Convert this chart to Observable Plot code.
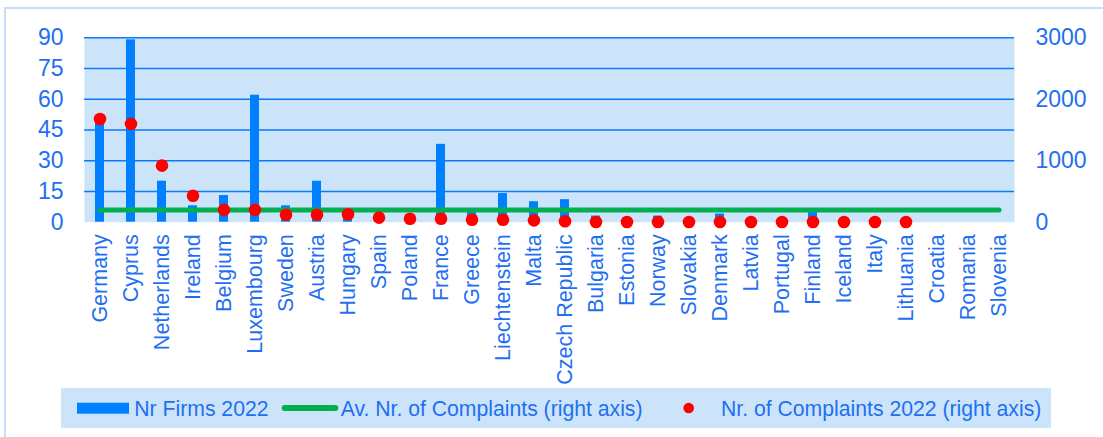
<!DOCTYPE html>
<html><head><meta charset="utf-8">
<script src="https://cdn.jsdelivr.net/npm/d3@7"></script>
<script src="https://cdn.jsdelivr.net/npm/@observablehq/plot@0.6"></script>
<style>
body{margin:0;background:#fff;font-family:"Liberation Sans",Arial,sans-serif;}
#wrap{position:relative;width:1103px;height:437px;overflow:hidden;background:#fff;}
#border{position:absolute;left:4px;top:7px;width:1200px;height:600px;border:2px solid #cadcf7;}
#chart{position:absolute;left:0;top:0;}
#legend{position:absolute;left:61px;top:388px;}
</style></head>
<body>
<div id="wrap"><div id="border"></div><div id="chart"></div><div id="legend"></div></div>
<script>
const countries = ["Germany","Cyprus","Netherlands","Ireland","Belgium","Luxembourg","Sweden","Austria","Hungary","Spain","Poland","France","Greece","Liechtenstein","Malta","Czech Republic","Bulgaria","Estonia","Norway","Slovakia","Denmark","Latvia","Portugal","Finland","Iceland","Italy","Lithuania","Croatia","Romania","Slovenia"];
const firms2022 = [49,89,20,8,13,62,8,20,3,2,3,38,5,14,10,11,3,2,3,1,4,1,1,5,1,1,1,0,0,0];
const complaints2022 = [1680,1600,920,430,200,200,120,120,130,75,55,55,40,40,30,15,3,3,3,3,3,3,3,3,3,3,3,null,null,null];
const avgComplaints = 200;
const leftTicks = [0,15,30,45,60,75,90];
const rightTicks = [0,1000,2000,3000];
const legendLabels = ["Nr Firms 2022","Av. Nr. of Complaints (right axis)","Nr. of Complaints 2022 (right axis)"];

const leftMax = 90, rightMax = 3000, k = leftMax / rightMax;
const rows = countries.map((c,i)=>({country:c, firms:firms2022[i], complaints:complaints2022[i], avg:avgComplaints}));
const txt = "#1f6ff2";
const font = "Liberation Sans, Arial, sans-serif";

const plot = Plot.plot({
  width: 1103, height: 388,
  marginTop: 37.3, marginBottom: 166.3, marginLeft: 84, marginRight: 89,
  style: {fontFamily: font, background: "transparent"},
  x: {domain: countries, padding: 0, label: null},
  y: {domain: [0, leftMax], label: null},
  marks: [
    Plot.frame({fill: "#cce4fa", stroke: "none"}),
    Plot.ruleY(leftTicks.filter(d => d > 0), {stroke: "#0a78ff", strokeWidth: 1.6}),
    Plot.barY(rows, {x: "country", y: "firms", fill: "#0080ff", insetLeft: 11, insetRight: 11}),
    Plot.lineY(rows, {x: "country", y: d => d.avg * k, stroke: "#00b050", strokeWidth: 5, strokeLinecap: "round"}),
    Plot.dot(rows.filter(d => d.complaints != null), {x: "country", y: d => d.complaints * k, r: 6.3, fill: "#ff0000", stroke: "none"}),
    Plot.axisY({anchor: "left", ticks: leftTicks, tickSize: 0, tickPadding: 21, fontSize: 23, color: txt, label: null}),
    Plot.axisY({anchor: "right", ticks: rightTicks.map(d => d * k), tickFormat: d => String(Math.round(d / k)), tickSize: 0, tickPadding: 21, fontSize: 23, color: txt, label: null}),
    Plot.axisX({tickRotate: -90, tickSize: 0, tickPadding: 12, fontSize: 21.5, color: txt, label: null})
  ]
});
document.getElementById("chart").appendChild(plot);

// legend
const lg = d3.select("#legend").append("svg").attr("width", 990).attr("height", 40)
  .style("font-family", font).style("display","block");
lg.append("rect").attr("width", 990).attr("height", 40).attr("fill", "#cce4fa");
lg.append("rect").attr("x", 16).attr("y", 14.7).attr("width", 52).attr("height", 11).attr("fill", "#0080ff");
lg.append("line").attr("x1", 223.7).attr("x2", 274.3).attr("y1", 20).attr("y2", 20)
  .attr("stroke", "#00b050").attr("stroke-width", 6).attr("stroke-linecap", "round");
lg.append("circle").attr("cx", 627.7).attr("cy", 20).attr("r", 5.3).attr("fill", "#ff0000");
const lx = [73.3, 279.7, 660];
legendLabels.forEach((t,i)=>{
  lg.append("text").attr("x", lx[i]).attr("y", 27.5).attr("fill", txt).attr("font-size", 21.2).text(t);
});
</script>
</body></html>
